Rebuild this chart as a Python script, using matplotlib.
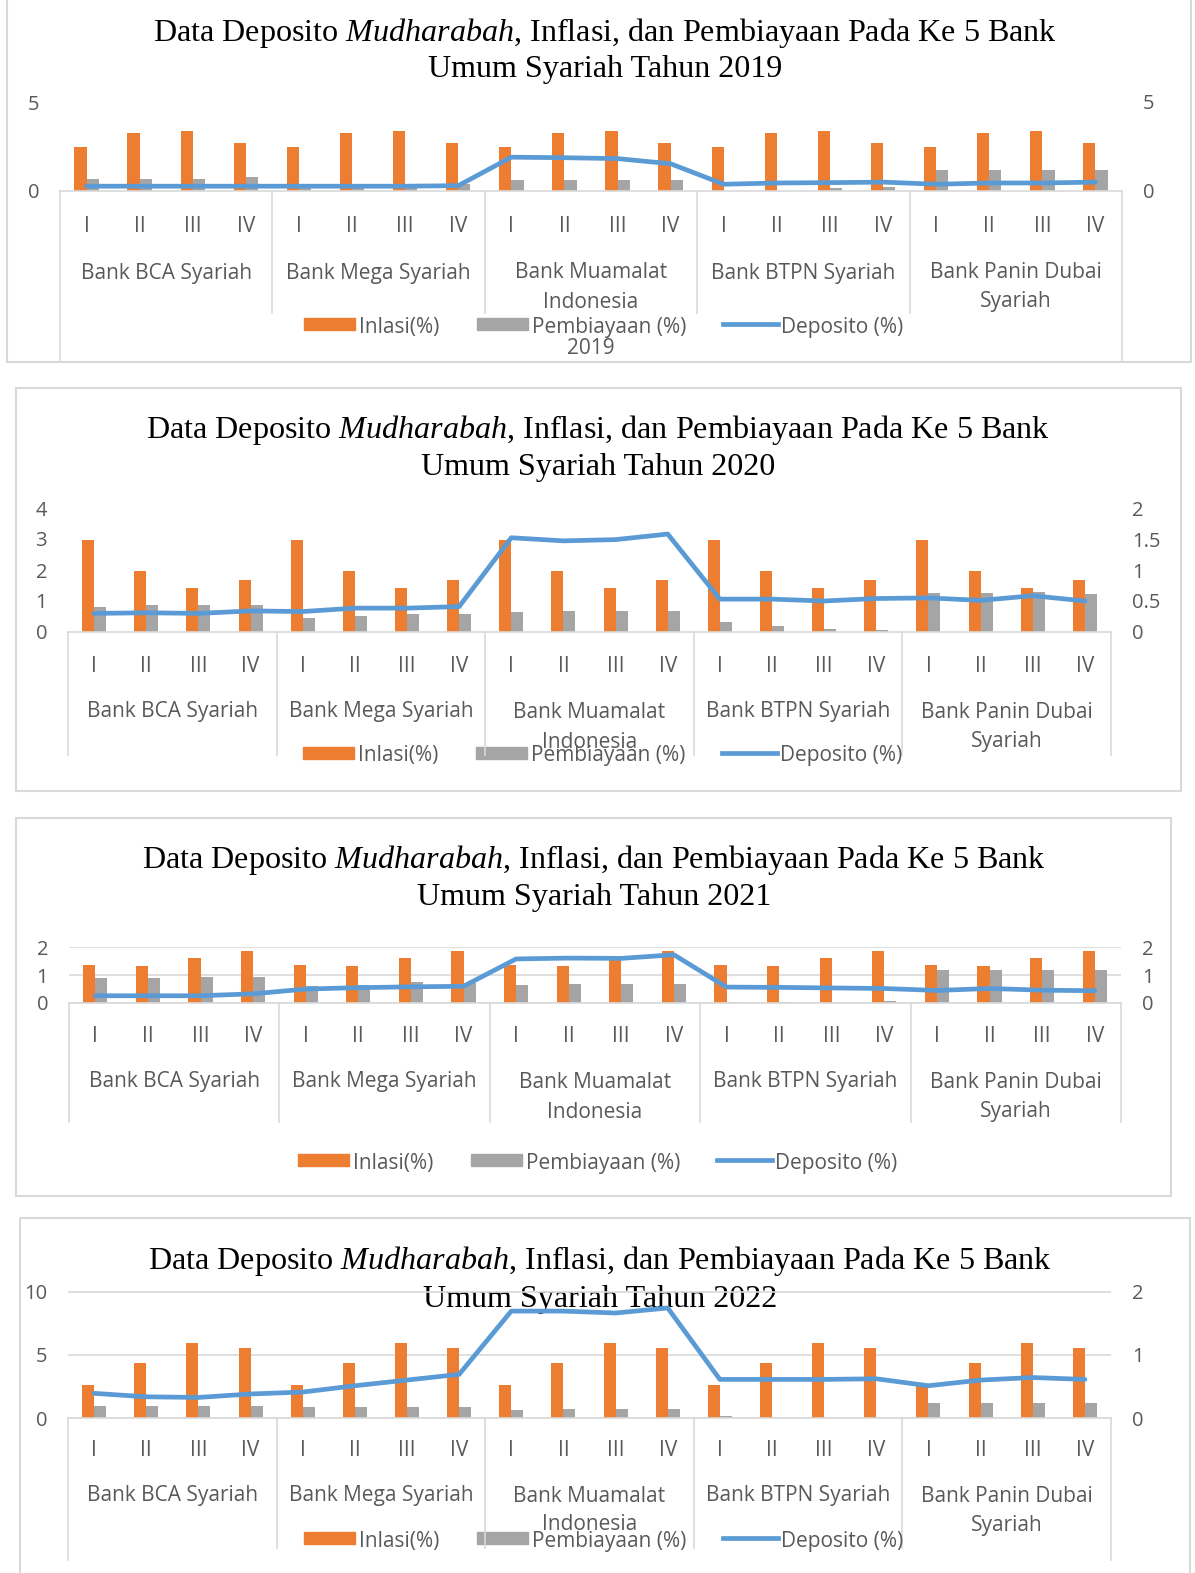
import matplotlib
matplotlib.use('Agg')
import matplotlib.pyplot as plt
import numpy as np
from matplotlib.patches import Rectangle
from matplotlib.transforms import blended_transform_factory
from matplotlib.ticker import FuncFormatter

plt.rcParams['font.family'] = ['Open Sans', 'DejaVu Sans']
plt.rcParams['mathtext.fontset'] = 'custom'
plt.rcParams['mathtext.rm'] = 'Liberation Serif'
plt.rcParams['mathtext.it'] = 'Liberation Serif:italic'

W, H = 1195, 1573
ORANGE, GRAY, BLUE = '#ED7D31', '#A5A5A5', '#5B9BD5'
TXT, LINE = '#595959', '#D9D9D9'
FS = 15

# data
banks = ['Bank BCA Syariah', 'Bank Mega Syariah', 'Bank Muamalat\nIndonesia',
         'Bank BTPN Syariah', 'Bank Panin Dubai\nSyariah']
quarters = ['I', 'II', 'III', 'IV']
legend_labels = ['Inlasi(%)', 'Pembiayaan (%)', 'Deposito (%)']
years = [2019, 2020, 2021, 2022]

inflasi_2019 = [2.48, 3.28, 3.39, 2.72, 2.48, 3.28, 3.39, 2.72, 2.48, 3.28, 3.39, 2.72,
                2.48, 3.28, 3.39, 2.72, 2.48, 3.28, 3.39, 2.72]
pembiayaan_2019 = [0.68, 0.70, 0.70, 0.78, 0.20, 0.20, 0.20, 0.38, 0.62, 0.62, 0.60, 0.60,
                   0.00, 0.02, 0.15, 0.25, 1.20, 1.20, 1.20, 1.20]
deposito_2019 = [0.27, 0.27, 0.27, 0.27, 0.27, 0.27, 0.27, 0.30, 1.90, 1.87, 1.82, 1.53,
                 0.38, 0.45, 0.47, 0.50, 0.38, 0.45, 0.45, 0.50]

inflasi_2020 = [2.96, 1.96, 1.42, 1.68, 2.96, 1.96, 1.42, 1.68, 2.96, 1.96, 1.42, 1.68,
                2.96, 1.96, 1.42, 1.68, 2.96, 1.96, 1.42, 1.68]
pembiayaan_2020 = [0.80, 0.87, 0.87, 0.87, 0.45, 0.52, 0.58, 0.58, 0.65, 0.67, 0.68, 0.68,
                   0.31, 0.20, 0.11, 0.06, 1.26, 1.26, 1.28, 1.21]
deposito_2020 = [0.30, 0.31, 0.30, 0.34, 0.33, 0.385, 0.385, 0.41, 1.52, 1.47, 1.49, 1.58,
                 0.53, 0.53, 0.50, 0.54, 0.55, 0.51, 0.585, 0.50]

inflasi_2021 = [1.37, 1.33, 1.60, 1.87, 1.37, 1.33, 1.60, 1.87, 1.37, 1.33, 1.60, 1.87,
                1.37, 1.33, 1.60, 1.87, 1.37, 1.33, 1.60, 1.87]
pembiayaan_2021 = [0.90, 0.90, 0.92, 0.92, 0.60, 0.65, 0.74, 0.72, 0.64, 0.67, 0.69, 0.67,
                   0.05, 0.02, 0.00, 0.06, 1.19, 1.17, 1.19, 1.19]
deposito_2021 = [0.26, 0.26, 0.26, 0.33, 0.50, 0.55, 0.58, 0.60, 1.58, 1.61, 1.60, 1.73,
                 0.57, 0.56, 0.54, 0.52, 0.45, 0.52, 0.46, 0.44]

inflasi_2022 = [2.64, 4.35, 5.95, 5.51, 2.64, 4.35, 5.95, 5.51, 2.64, 4.35, 5.95, 5.51,
                2.64, 4.35, 5.95, 5.51, 2.64, 4.35, 5.95, 5.51]
pembiayaan_2022 = [0.92, 0.92, 0.97, 0.97, 0.84, 0.89, 0.89, 0.84, 0.65, 0.71, 0.71, 0.71,
                   0.13, 0.00, 0.00, 0.00, 1.15, 1.15, 1.15, 1.15]
deposito_2022 = [0.39, 0.335, 0.325, 0.38, 0.41, 0.51, 0.60, 0.69, 1.69, 1.69, 1.66, 1.74,
                 0.61, 0.61, 0.61, 0.62, 0.51, 0.60, 0.64, 0.61]

inflasi = [inflasi_2019, inflasi_2020, inflasi_2021, inflasi_2022]
pembiayaan = [pembiayaan_2019, pembiayaan_2020, pembiayaan_2021, pembiayaan_2022]
deposito = [deposito_2019, deposito_2020, deposito_2021, deposito_2022]

# layout of each panel in pixels of the 1195x1573 picture
layouts = [
    dict(frame=(7, -10, 1191, 362), title_y=(33, 70), title_x=605, x0=60, x1=1122,
         ytop=102, ybase=191, yticks=[0, 5], y2ticks=[0, 5], grid=False,
         num_y=226, name_y=273, gap=29, outer_bot=360, sep_bot=313, leg_y=327, leg_x=304,
         xtitle=(591, 348)),
    dict(frame=(16, 388, 1181, 791), title_y=(430, 468), title_x=598, x0=68, x1=1111,
         ytop=508, ybase=632, yticks=[0, 1, 2, 3, 4], y2ticks=[0, 0.5, 1, 1.5, 2], grid=False,
         num_y=666, name_y=712, gap=30, outer_bot=755, sep_bot=755, leg_y=756, leg_x=303,
         xtitle=None),
    dict(frame=(16, 818, 1171, 1196), title_y=(860, 897), title_x=594, x0=69, x1=1121,
         ytop=947, ybase=1003, yticks=[0, 1, 2], y2ticks=[0, 1, 2], grid=True,
         num_y=1036, name_y=1082, gap=30, outer_bot=1122, sep_bot=1122, leg_y=1163, leg_x=298,
         xtitle=None),
    dict(frame=(20, 1218, 1190, 1590), title_y=(1261, 1299), title_x=600, x0=68, x1=1111,
         ytop=1291, ybase=1418, yticks=[0, 5, 10], y2ticks=[0, 1, 2], grid=True,
         num_y=1450, name_y=1496, gap=29, outer_bot=1560, sep_bot=1548, leg_y=1541, leg_x=304,
         xtitle=None),
]

fig = plt.figure(figsize=(W / 100, H / 100), dpi=100)
ov = fig.add_axes([0, 0, 1, 1])
ov.set_xlim(0, W)
ov.set_ylim(H, 0)
ov.axis('off')
ov.set_zorder(-1)

fmt = FuncFormatter(lambda v, p: f'{v:g}')
idx = np.arange(20)
bw = 0.23

for year, infl, pemb, depo, lay in zip(years, inflasi, pembiayaan, deposito, layouts):
    fx0, fy0, fx1, fy1 = lay['frame']
    ov.add_patch(Rectangle((fx0, fy0), fx1 - fx0, fy1 - fy0, fill=False, ec=LINE, lw=1.5))

    ov.text(lay['title_x'], lay['title_y'][0],
            r'Data Deposito $\mathit{Mudharabah}$, Inflasi, dan Pembiayaan Pada Ke 5 Bank',
            family='Liberation Serif', fontsize=23.1, ha='center', va='center', color='black')
    ov.text(lay['title_x'], lay['title_y'][1], f'Umum Syariah Tahun {year}',
            family='Liberation Serif', fontsize=23.1, ha='center', va='center', color='black')

    ax = fig.add_axes([lay['x0'] / W, 1 - lay['ybase'] / H,
                       (lay['x1'] - lay['x0']) / W, (lay['ybase'] - lay['ytop']) / H])
    ax.set_facecolor('none')
    ax.bar(idx - bw / 2, infl, bw, color=ORANGE, zorder=2)
    ax.bar(idx + bw / 2, pemb, bw, color=GRAY, zorder=2)
    ax.set_xlim(-0.5, 19.5)
    ax.set_ylim(0, lay['yticks'][-1])
    ax.set_yticks(lay['yticks'])
    ax.yaxis.set_major_formatter(fmt)
    ax.set_xticks([])
    ax.tick_params(axis='y', length=0, pad=15, labelsize=14.5, labelcolor=TXT)
    for s in ['top', 'left', 'right']:
        ax.spines[s].set_visible(False)
    ax.spines['bottom'].set_color(LINE)
    ax.spines['bottom'].set_linewidth(1.2)
    if lay['grid']:
        ax.set_axisbelow(True)
        ax.grid(axis='y', color=LINE, lw=1.2)
        ax.set_ylim(0, lay['yticks'][-1] * 1.004)

    ax2 = ax.twinx()
    ax2.plot(idx, depo, color=BLUE, lw=3.4, solid_capstyle='round', solid_joinstyle='round')
    ax2.set_ylim(0, lay['y2ticks'][-1] * (1.004 if lay['grid'] else 1))
    ax2.set_yticks(lay['y2ticks'])
    ax2.yaxis.set_major_formatter(fmt)
    ax2.tick_params(axis='y', length=0, pad=15, labelsize=14.5, labelcolor=TXT)
    for s in ax2.spines.values():
        s.set_visible(False)

    # multi-level category axis
    tr = blended_transform_factory(ax.transData, ov.transData)
    for g in range(6):
        xb = 4 * g - 0.5
        bot = lay['outer_bot'] if g in (0, 5) else lay['sep_bot']
        ov.plot([xb, xb], [lay['ybase'], bot], color=LINE, lw=1.2, transform=tr)
    for i in idx:
        ov.text(i, lay['num_y'], quarters[i % 4], transform=tr, ha='center', va='center',
                fontsize=FS, color=TXT)
    for g, name in enumerate(banks):
        for k, part in enumerate(name.split('\n')):
            ov.text(4 * g + 1.5, lay['name_y'] + k * lay['gap'], part, transform=tr,
                    ha='center', va='center', fontsize=FS, color=TXT)
    if lay['xtitle']:
        ov.text(*lay['xtitle'], str(year), ha='center', va='center', fontsize=FS, color=TXT)

    # legend
    lx, ly = lay['leg_x'], lay['leg_y']
    ov.add_patch(Rectangle((lx, ly - 9), 51, 12, color=ORANGE))
    ov.text(lx + 55, ly, legend_labels[0], ha='left', va='center', fontsize=FS, color=TXT)
    ov.add_patch(Rectangle((lx + 173, ly - 9), 51, 12, color=GRAY))
    ov.text(lx + 228, ly, legend_labels[1], ha='left', va='center', fontsize=FS, color=TXT)
    ov.plot([lx + 419, lx + 474], [ly - 3, ly - 3], color=BLUE, lw=3.4)
    ov.text(lx + 477, ly, legend_labels[2], ha='left', va='center', fontsize=FS, color=TXT)

fig.savefig('out.png', dpi=100)
